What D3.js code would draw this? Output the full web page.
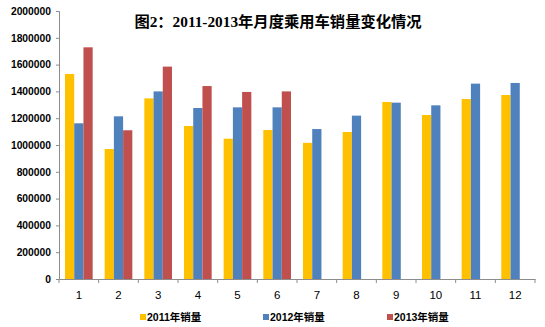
<!DOCTYPE html>
<html><head><meta charset="utf-8">
<script src="https://cdn.jsdelivr.net/npm/d3@7"></script>
<style>body{margin:0;background:#fff;}svg{display:block;}</style>
</head><body>
<svg id="c" width="545" height="327"></svg>
<script>
const months = ["1","2","3","4","5","6","7","8","9","10","11","12"];
const seriesNames = ["2011年销量","2012年销量","2013年销量"];
const sales2011 = [1530000, 970000, 1348000, 1142000, 1047000, 1112000, 1016000, 1097000, 1321000, 1224000, 1343000, 1373000];
const sales2012 = [1162000, 1214000, 1400000, 1276000, 1281000, 1281000, 1119000, 1219000, 1316000, 1296000, 1458000, 1463000];
const sales2013 = [1729000, 1110000, 1585000, 1440000, 1396000, 1400000, null, null, null, null, null, null];
const yTicks = [0,200000,400000,600000,800000,1000000,1200000,1400000,1600000,1800000,2000000];
const title = "图2：2011-2013年月度乘用车销量变化情况";
const colors = ["#FFC000","#4F81BD","#C0504D"];
const allSeries = [sales2011, sales2012, sales2013];

const svg = d3.select("#c");
const mLeft = 59, mRight = 535, mTop = 11, mBottom = 279;
const x = d3.scaleBand().domain(months).range([mLeft, mRight]).padding(0);
const y = d3.scaleLinear().domain([0, 2000000]).range([mBottom, mTop]);
const xs = d3.scaleBand().domain(seriesNames).range([0, x.bandwidth()]).paddingOuter(0.65).paddingInner(0);

svg.append("text").attr("x", 278).attr("y", 27).attr("text-anchor","middle")
  .attr("font-family","'Liberation Serif','Noto Sans CJK SC',serif").attr("font-weight","bold")
  .attr("font-size",15.3).attr("fill","#000").text(title);

// bars
allSeries.forEach((s, si) => {
  svg.append("g").selectAll("rect").data(months.map((m,i)=>({m, v:s[i]})).filter(d=>d.v!=null))
    .join("rect")
    .attr("x", d => x(d.m) + xs(seriesNames[si]))
    .attr("width", xs.bandwidth())
    .attr("y", d => y(d.v))
    .attr("height", d => y(0) - y(d.v))
    .attr("fill", colors[si]);
});

// y axis
const yAxis = svg.append("g").attr("transform", `translate(${mLeft},0)`)
  .call(d3.axisLeft(y).tickValues(yTicks).tickSize(3).tickPadding(5).tickFormat(d3.format("d")));
yAxis.select(".domain").attr("stroke","#8c8c8c");
yAxis.selectAll(".tick line").attr("stroke","#8c8c8c");
yAxis.selectAll("text").attr("font-family","'Liberation Sans',Arial,sans-serif").attr("font-weight","bold")
  .attr("font-size",10.3).attr("fill","#000");

// x axis
const xAxis = svg.append("g").attr("transform", `translate(0,${mBottom})`)
  .call(d3.axisBottom(x).tickSize(0).tickPadding(12));
xAxis.select(".domain").attr("stroke","#8c8c8c");
xAxis.selectAll("text").attr("font-family","'Liberation Sans',Arial,sans-serif")
  .attr("font-size",11.5).attr("fill","#000");
const boundaries = months.map(m => x(m)).concat([mRight]);
xAxis.selectAll("line.b").data(boundaries).join("line").attr("class","b")
  .attr("x1", d=>d).attr("x2", d=>d).attr("y1",0).attr("y2",4).attr("stroke","#8c8c8c");

// legend
const legX = [140, 263, 387];
const leg = svg.append("g");
seriesNames.forEach((n, i) => {
  leg.append("rect").attr("x", legX[i]).attr("y", 314).attr("width", 6).attr("height", 6).attr("fill", colors[i]);
  leg.append("text").attr("x", legX[i]+7).attr("y", 321)
    .attr("font-family","'Liberation Sans','Noto Sans CJK SC',sans-serif").attr("font-weight","bold")
    .attr("font-size",10.5).attr("fill","#000").text(n);
});
</script>
</body></html>
